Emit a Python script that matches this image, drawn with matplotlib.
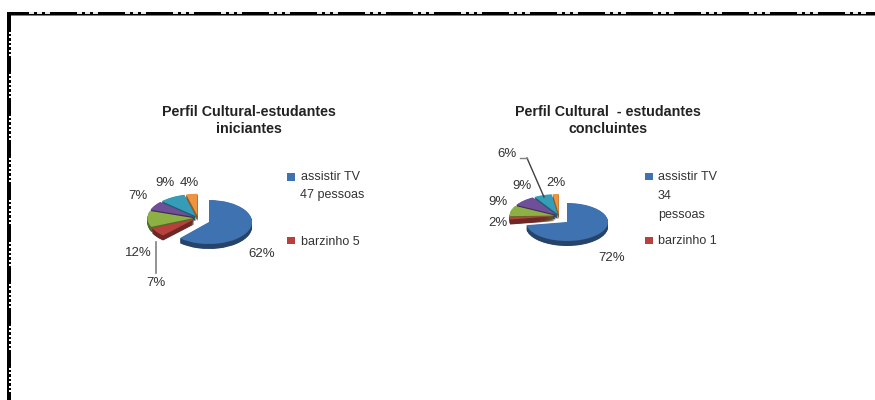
import matplotlib
matplotlib.use("Agg")
import matplotlib.pyplot as plt
import matplotlib.colors as mcolors
from matplotlib.patches import Rectangle

plt.rcParams['font.family'] = ['Liberation Sans', 'DejaVu Sans']

counts_ini = [47, 5, 9, 5, 7, 3]
pct_ini = ["62%", "7%", "12%", "7%", "9%", "4%"]
counts_con = [34, 1, 4, 4, 3, 1]
pct_con = ["72%", "2%", "9%", "9%", "6%", "2%"]
colors = ["#3f72b0", "#b8413e", "#8cb044", "#6f4f98", "#359db8", "#ee9440"]

title_ini = "Perfil Cultural-estudantes\niniciantes"
title_con = "Perfil Cultural  - estudantes\nconcluintes"
legend_ini = ["assistir TV", "47 pessoas", "barzinho 5"]
legend_con = ["assistir TV", "34", "pessoas", "barzinho 1"]

W, H = 875, 400
fig = plt.figure(figsize=(W / 100, H / 100), dpi=100)


def darker(c, f=0.6):
    r, g, b = mcolors.to_rgb(c)
    return (r * f, g * f, b * f)


def pie_layer(cx, cy, rx, ry, counts, show, explode, depth=5):
    # one flattened pie centred on pixel (cx, cy), slices not in show stay invisible
    w, h = rx * 3, ry * 3 + depth * 2
    ax = fig.add_axes([(cx - w / 2) / W, 1 - (cy + h / 2) / H, w / W, h / H])
    face = [colors[i] if i in show else "none" for i in range(len(counts))]
    side = [darker(colors[i]) if i in show else "none" for i in range(len(counts))]
    expl = [explode] * len(counts)
    for d in range(depth * 2, 0, -1):
        ax.pie(counts, colors=side, startangle=90, counterclock=False, explode=expl,
               center=(0, -d * 0.5 / ry), wedgeprops={"linewidth": 0})
    ax.pie(counts, colors=face, startangle=90, counterclock=False, explode=expl,
           wedgeprops={"linewidth": 0})
    ax.set_aspect("auto")
    ax.set_xlim(-w / 2 / rx, w / 2 / rx)
    ax.set_ylim(-h / 2 / ry, h / 2 / ry)
    ax.patch.set_alpha(0)


others = [1, 2, 3, 4, 5]
pie_layer(198, 218, 46, 22, counts_ini, others, 0.1)
pie_layer(209, 222, 43, 22, counts_ini, [0], 0)
pie_layer(559, 216, 45, 20, counts_con, others, 0.1)
pie_layer(567, 222, 41, 19, counts_con, [0], 0)

# page overlay in pixel coordinates
page = fig.add_axes([0, 0, 1, 1], zorder=5)
page.set_xlim(0, W)
page.set_ylim(H, 0)
page.axis("off")
page.patch.set_alpha(0)

# sheet border with the ruler ticks
page.add_patch(Rectangle((7, 12), W - 7, 3, color="black", lw=0))
page.add_patch(Rectangle((10, 15), W - 10, 1, color="#808080", lw=0))
page.add_patch(Rectangle((7, 12), 3.5, H - 12, color="black", lw=0))
page.add_patch(Rectangle((10.5, 15), 0.8, H - 15, color="#808080", lw=0))
for start in range(29, W, 48):
    for k in range(3):
        page.add_patch(Rectangle((start + k * 8, 12), 5, 1.6, color="#e8e8e8", lw=0))
for start in range(32, H, 42):
    for k in range(6):
        page.add_patch(Rectangle((8.8, start + k * 4.4), 2.5, 2, color="white", lw=0))

tc = "#333333"
page.text(249, 120.5, title_ini, ha="center", va="center", fontsize=10.3, fontweight="bold",
          color="#222222", linespacing=1.2)
page.text(608, 120.5, title_con, ha="center", va="center", fontsize=10.3, fontweight="bold",
          color="#222222", linespacing=1.2)

# percent labels, left chart
for txt, x, y in zip(pct_ini, [262, 156, 138, 138, 165, 189], [254, 283, 253, 196, 183, 183]):
    page.text(x, y, txt, ha="center", va="center", fontsize=9.5, color=tc)
# percent labels, right chart
for txt, x, y in zip(pct_con, [612, 498, 498, 522, 507, 556], [258, 223, 202, 186, 154, 183]):
    page.text(x, y, txt, ha="center", va="center", fontsize=9.5, color=tc)

# leader lines
page.plot([156, 156], [242, 273], color="#808080", lw=1.2)
page.plot([527, 544], [158, 197], color="#404040", lw=1)
page.plot([520, 527], [158, 158], color="#808080", lw=1)

# legends
page.add_patch(Rectangle((287, 173), 8, 8, color=colors[0], lw=0))
page.text(301, 177, legend_ini[0], va="center", fontsize=9, color=tc)
page.text(300, 195, legend_ini[1], va="center", fontsize=9, color=tc)
page.add_patch(Rectangle((287, 237), 8, 7, color=colors[1], lw=0))
page.text(301, 242, legend_ini[2], va="center", fontsize=9, color=tc)

page.add_patch(Rectangle((645, 173), 8, 7, color=colors[0], lw=0))
for line, y in zip(legend_con[:3], [177, 196, 215]):
    page.text(658, y, line, va="center", fontsize=9, color=tc)
page.add_patch(Rectangle((645, 237), 8, 7, color=colors[1], lw=0))
page.text(658, 241, legend_con[3], va="center", fontsize=9, color=tc)

fig.savefig("out.png", dpi=100)
